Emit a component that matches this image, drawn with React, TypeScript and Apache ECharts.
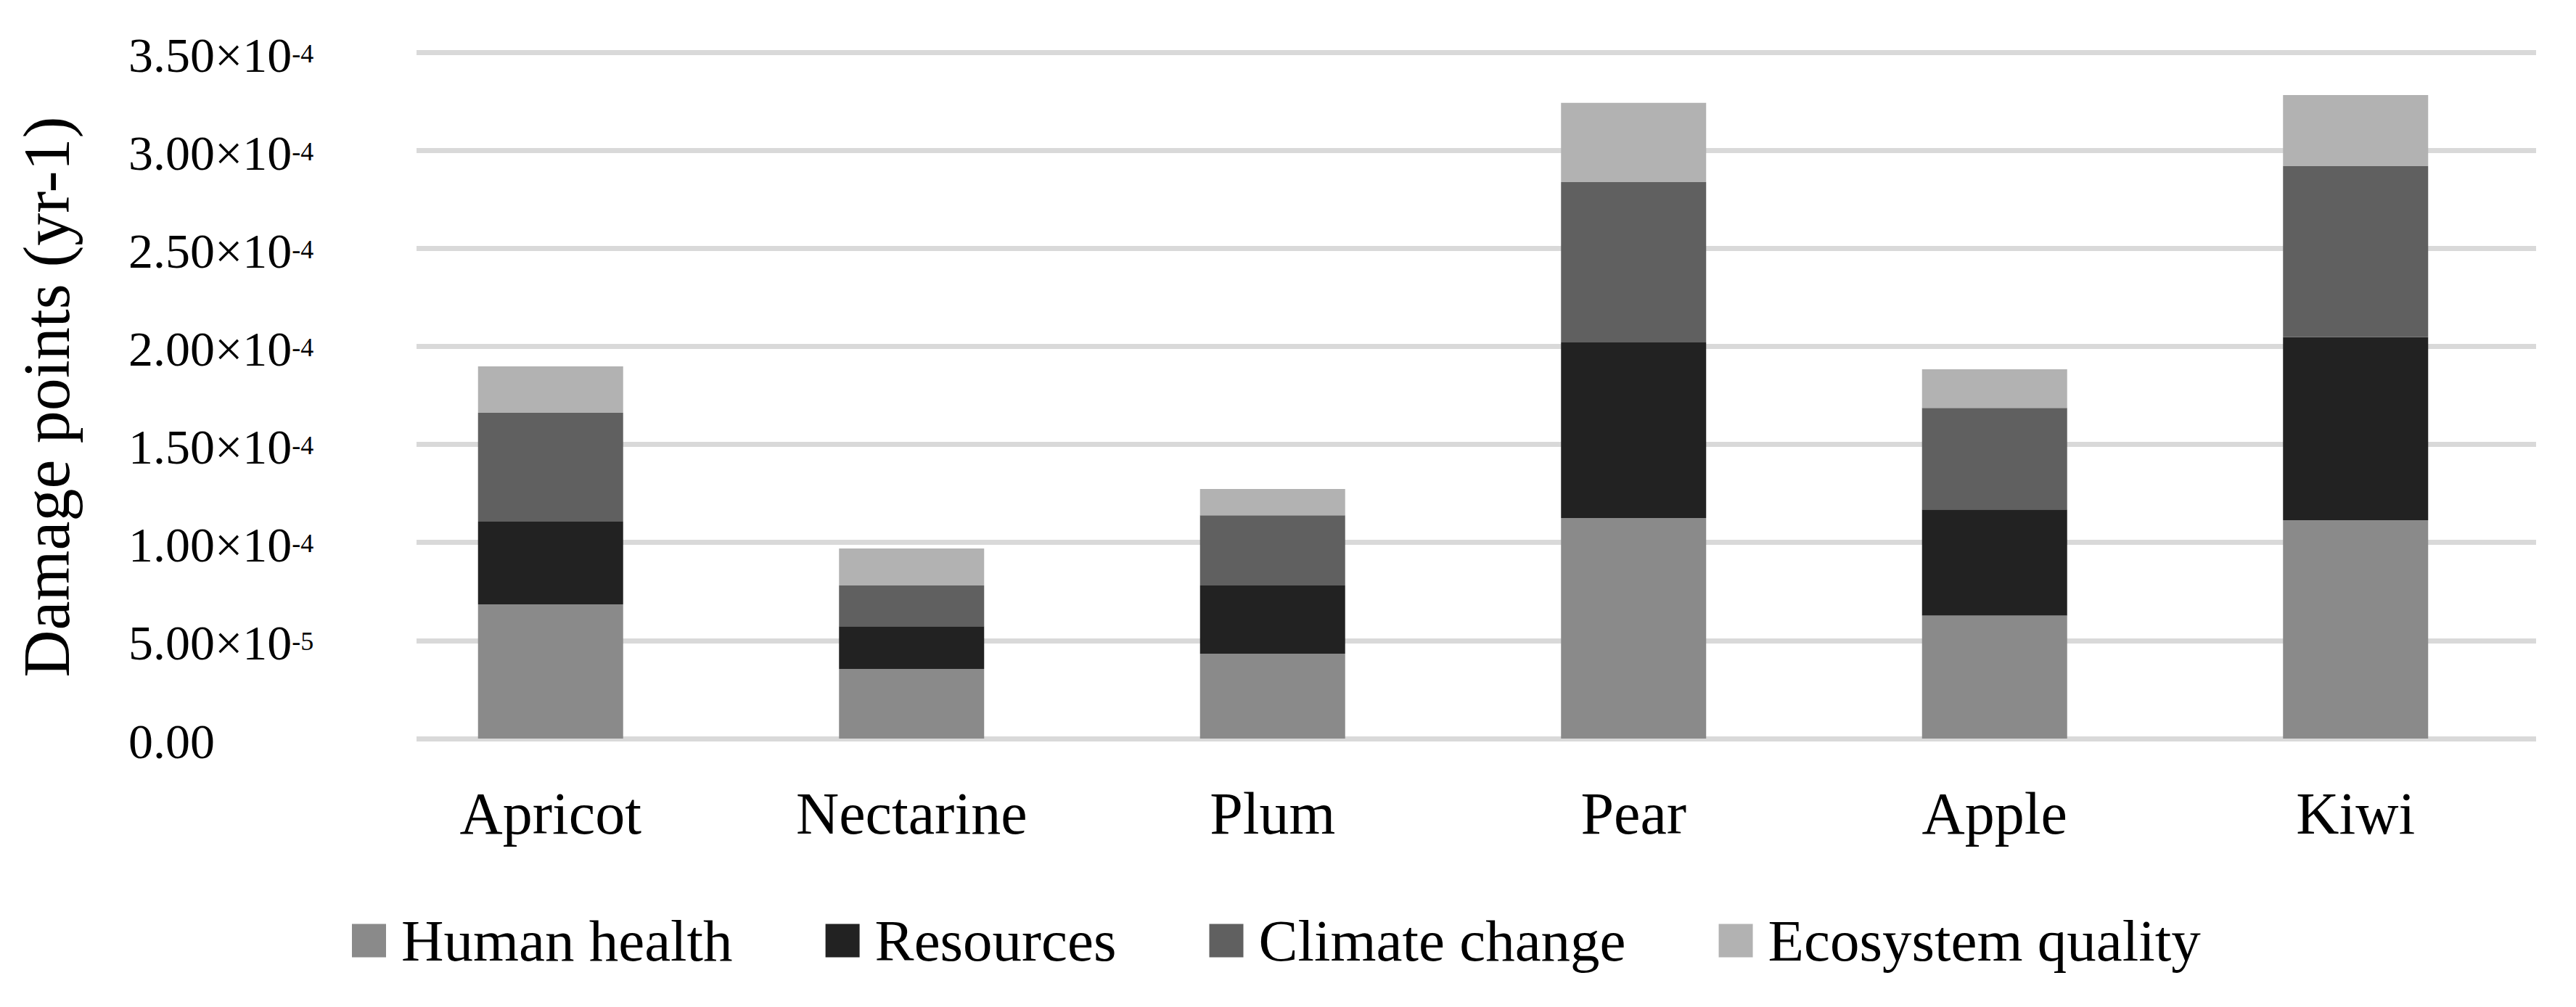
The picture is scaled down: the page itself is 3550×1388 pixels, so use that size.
import React, { useEffect, useRef } from 'react';
import * as echarts from 'echarts';

const categories = ['Apricot', 'Nectarine', 'Plum', 'Pear', 'Apple', 'Kiwi'];
const seriesNames = ['Human health', 'Resources', 'Climate change', 'Ecosystem quality'];

const humanHealth = [6.84e-5, 3.55e-5, 4.33e-5, 11.25e-5, 6.27e-5, 11.14e-5];
const resources = [4.22e-5, 2.18e-5, 3.48e-5, 8.95e-5, 5.41e-5, 9.33e-5];
const climateChange = [5.55e-5, 2.08e-5, 3.58e-5, 8.18e-5, 5.18e-5, 8.72e-5];
const ecosystemQuality = [2.37e-5, 1.88e-5, 1.34e-5, 4.04e-5, 1.97e-5, 3.63e-5];

const yMin = 0;
const yMax = 3.5e-4;
const yInterval = 5e-5;

const seriesValues = [humanHealth, resources, climateChange, ecosystemQuality];
const colors = ['#8a8a8a', '#222222', '#606060', '#b2b2b2'];

const FONT = "'Liberation Serif', 'Times New Roman', serif";

function formatTick(v: number): string {
  if (Math.abs(v) < 1e-12) return '{m|0.00}';
  const e = Math.floor(Math.log10(v) + 1e-9);
  const m = v / Math.pow(10, e);
  return '{m|' + m.toFixed(2) + '×10}{s|' + e + '}';
}

export default function App() {
  const ref = useRef<HTMLDivElement>(null);

  useEffect(() => {
    const chart = echarts.init(ref.current!, null, { renderer: 'svg' });
    chart.setOption({
      animation: false,
      backgroundColor: '#ffffff',
      grid: { left: 510, right: 55, top: 72, bottom: 370, containLabel: false },
      legend: {
        data: seriesNames,
        left: 480,
        top: 1251,
        icon: 'rect',
        itemWidth: 47,
        itemHeight: 46,
        itemGap: 128,
        selectedMode: false,
        textStyle: { fontFamily: FONT, fontSize: 81, color: '#000', padding: [0, 0, 0, 16] },
      },
      xAxis: {
        type: 'category',
        data: categories,
        axisLine: { show: false },
        axisTick: { show: false },
        axisLabel: {
          fontFamily: FONT,
          fontSize: 82,
          lineHeight: 82,
          color: '#000',
          margin: 62,
          interval: 0,
        },
        splitLine: { show: false },
      },
      yAxis: {
        type: 'value',
        min: yMin,
        max: yMax,
        interval: yInterval,
        axisLine: { show: false },
        axisTick: { show: false },
        splitLine: { show: true, lineStyle: { color: '#d9d9d9', width: 7 } },
        axisLabel: {
          align: 'left',
          margin: 333,
          formatter: (v: number) => formatTick(v),
          padding: [7, 0, 0, 0],
          rich: {
            m: { fontFamily: FONT, fontSize: 68, lineHeight: 68, color: '#000' },
            s: {
              fontFamily: FONT,
              fontSize: 36,
              lineHeight: 34,
              color: '#000',
              verticalAlign: 'top',
              padding: [14, 0, 0, 0],
            },
          },
        },
      },
      graphic: [
        {
          type: 'rect',
          z: 1,
          shape: { x: 500, y: 55, width: 74, height: 980 },
          style: { fill: '#ffffff' },
          silent: true,
        },
        {
          type: 'text',
          x: 64,
          y: 547,
          rotation: Math.PI / 2,
          silent: true,
          style: {
            text: 'Damage points (yr-1)',
            fontFamily: FONT,
            fontSize: 90,
            fill: '#000',
            align: 'center',
            verticalAlign: 'middle',
            textAlign: 'center',
            textVerticalAlign: 'middle',
          },
        },
      ],
      series: seriesNames.map((name, i) => ({
        name,
        type: 'bar',
        stack: 'total',
        barWidth: 200,
        data: seriesValues[i],
        itemStyle: { color: colors[i] },
        emphasis: { disabled: true },
      })),
    });
    return () => chart.dispose();
  }, []);

  return (
    <div
      ref={ref}
      style={{ position: 'absolute', left: 0, top: 0, width: 3550, height: 1388, background: '#fff' }}
    />
  );
}
